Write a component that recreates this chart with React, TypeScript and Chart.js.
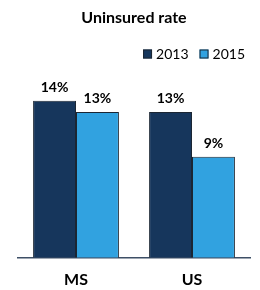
import React, { useEffect, useRef } from "react";
import { Chart, registerables } from "chart.js";

Chart.register(...registerables);

const chartTitle = "Uninsured rate";
const categories = ["MS", "US"];
const seriesNames = ["2013", "2015"];
const values2013 = [14, 13];
const values2015 = [13, 9];
const seriesColors = ["#16365c", "#31a2e0"];

const FONT = "Lato, 'Open Sans', sans-serif";

const barLabels = {
  id: "barLabels",
  afterDatasetsDraw(chart: any) {
    const ctx = chart.ctx;
    ctx.save();
    ctx.font = `bold 14px ${FONT}`;
    ctx.fillStyle = "#000";
    ctx.textAlign = "center";
    ctx.textBaseline = "middle";
    chart.data.datasets.forEach((ds: any, i: number) => {
      const meta = chart.getDatasetMeta(i);
      meta.data.forEach((bar: any, j: number) => {
        ctx.fillText(ds.data[j] + "%", bar.x, bar.y - 13);
      });
    });
    ctx.restore();
  },
};

// compact legend, right aligned
const compactLegend = {
  id: "compactLegend",
  afterDraw(chart: any) {
    const ctx = chart.ctx;
    ctx.save();
    ctx.font = `14px ${FONT}`;
    ctx.textBaseline = "middle";
    const box = 9;
    const gap = 4;
    const itemGap = 11;
    const y = 54;
    const items = chart.data.datasets.map((ds: any) => ({
      text: ds.label,
      color: ds.backgroundColor,
      w: box + gap + ctx.measureText(ds.label).width,
    }));
    const total = items.reduce((s: number, it: any) => s + it.w, 0) + itemGap * (items.length - 1);
    let x = 245 - total;
    items.forEach((it: any) => {
      ctx.fillStyle = it.color;
      ctx.fillRect(x, y - box / 2, box, box);
      ctx.strokeStyle = "#1b2633";
      ctx.lineWidth = 1;
      ctx.strokeRect(x + 0.5, y - box / 2 + 0.5, box - 1, box - 1);
      ctx.fillStyle = "#000";
      ctx.textAlign = "left";
      ctx.fillText(it.text, x + box + gap, y);
      x += it.w + itemGap;
    });
    ctx.restore();
  },
};

export default function App() {
  const ref = useRef<HTMLCanvasElement>(null);
  useEffect(() => {
    if (!ref.current) return;
    const chart = new Chart(ref.current, {
      type: "bar",
      data: {
        labels: categories,
        datasets: [
          {
            label: seriesNames[0],
            data: values2013,
            backgroundColor: seriesColors[0],
            borderColor: "#1b2633",
            borderWidth: 1,
            barPercentage: 1,
            categoryPercentage: 0.74,
          },
          {
            label: seriesNames[1],
            data: values2015,
            backgroundColor: seriesColors[1],
            borderColor: "#1b2633",
            borderWidth: 1,
            barPercentage: 1,
            categoryPercentage: 0.74,
          },
        ],
      },
      options: {
        animation: false,
        responsive: true,
        maintainAspectRatio: false,
        layout: { padding: { left: 18, right: 10, top: 0, bottom: -11 } },
        plugins: {
          title: {
            display: true,
            text: chartTitle,
            color: "#000",
            font: { family: FONT, size: 16, weight: "bold" },
            padding: { top: 8, bottom: 51 },
          },
          legend: { display: false },
          tooltip: { enabled: false },
        },
        scales: {
          x: {
            grid: { display: false, drawTicks: false },
            border: { display: true, color: "#3d4f66", width: 1.5 },
            ticks: {
              color: "#000",
              font: { family: FONT, size: 16, weight: "bold" },
              padding: 12,
            },
          },
          y: { display: false, min: 0, max: 16 },
        },
      },
      plugins: [barLabels, compactLegend],
    });
    return () => chart.destroy();
  }, []);
  return (
    <div style={{ position: "absolute", left: 0, top: 0, width: 260, height: 290 }}>
      <canvas ref={ref} />
    </div>
  );
}
